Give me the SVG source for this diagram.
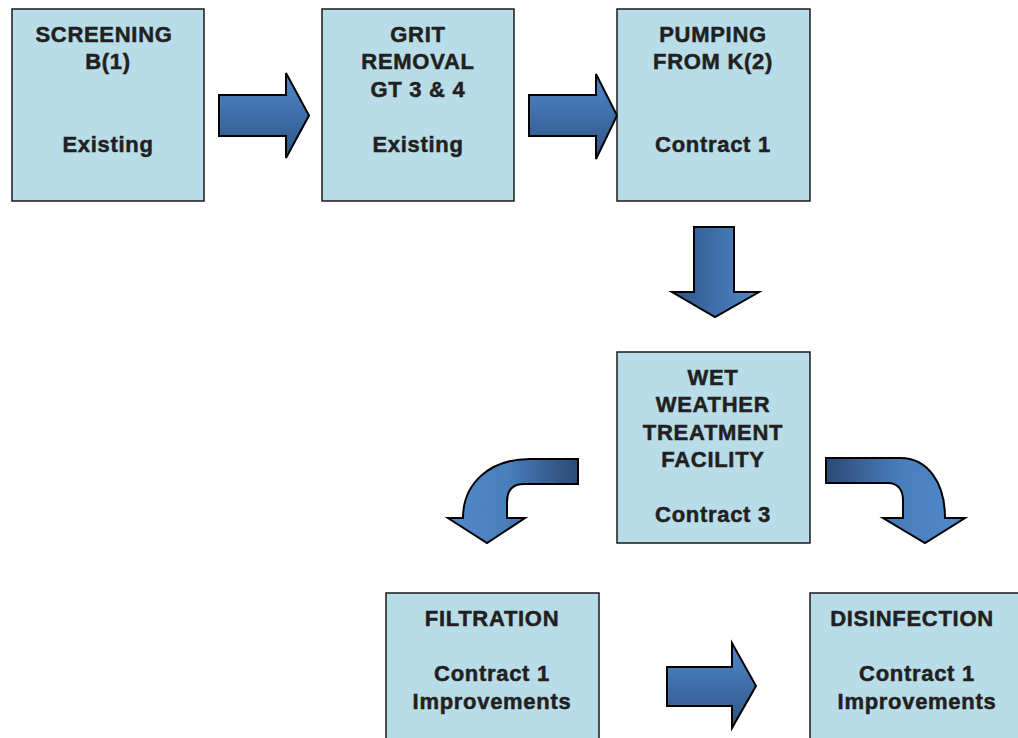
<svg xmlns="http://www.w3.org/2000/svg" width="1018" height="738" viewBox="0 0 1018 738">
<defs>
<linearGradient id="gV" x1="0" y1="0" x2="0" y2="1">
<stop offset="0" stop-color="#5189cb"/><stop offset="1" stop-color="#2c5485"/>
</linearGradient>
<linearGradient id="gH" x1="0" y1="0" x2="1" y2="0">
<stop offset="0" stop-color="#2c5485"/><stop offset="1" stop-color="#5189cb"/>
</linearGradient>
<linearGradient id="gL" x1="0" y1="0" x2="1" y2="0">
<stop offset="0" stop-color="#5189cb"/><stop offset="0.45" stop-color="#4a7fbd"/><stop offset="1" stop-color="#2a4a74"/>
</linearGradient>
<linearGradient id="gR" x1="0" y1="0" x2="1" y2="0">
<stop offset="0" stop-color="#2a4a74"/><stop offset="0.55" stop-color="#4a7fbd"/><stop offset="1" stop-color="#5189cb"/>
</linearGradient>
</defs>
<style>
.box{fill:#b8dde8;stroke:#1a1a1a;stroke-width:1.5}
.t{font-family:"Liberation Sans",Arial,sans-serif;font-weight:bold;font-size:22px;fill:#231f20;stroke:#231f20;stroke-width:0.5;text-anchor:middle;letter-spacing:0.7px}
.ar{stroke:#000;stroke-width:2;stroke-linejoin:miter}
</style>
<rect width="1018" height="738" fill="#fff"/>
<g id="n1">
<rect class="box" x="12" y="9" width="192" height="192"/>
<text class="t" x="104" y="41.7">SCREENING</text>
<text class="t" x="108" y="69.3">B(1)</text>
<text class="t" x="108" y="151.8">Existing</text>
</g>
<g id="n2">
<rect class="box" x="322" y="9" width="192" height="192"/>
<text class="t" x="418" y="41.7">GRIT</text>
<text class="t" x="418" y="69.3">REMOVAL</text>
<text class="t" x="418" y="96.8">GT 3 &amp; 4</text>
<text class="t" x="418" y="151.8">Existing</text>
</g>
<g id="n3">
<rect class="box" x="617" y="9" width="193" height="192"/>
<text class="t" x="713" y="41.7">PUMPING</text>
<text class="t" x="713" y="69.3">FROM K(2)</text>
<text class="t" x="713" y="151.8">Contract 1</text>
</g>
<g id="n4">
<rect class="box" x="617" y="352" width="193" height="191"/>
<text class="t" x="713" y="384.5">WET</text>
<text class="t" x="713" y="412">WEATHER</text>
<text class="t" x="713" y="439.5">TREATMENT</text>
<text class="t" x="713" y="467">FACILITY</text>
<text class="t" x="713" y="522">Contract 3</text>
</g>
<g id="n5">
<rect class="box" x="386" y="593" width="213" height="150"/>
<text class="t" x="492" y="626">FILTRATION</text>
<text class="t" x="492" y="681">Contract 1</text>
<text class="t" x="492" y="708.5">Improvements</text>
</g>
<g id="n6">
<rect class="box" x="810" y="593" width="214" height="150"/>
<text class="t" x="912" y="626">DISINFECTION</text>
<text class="t" x="917" y="681">Contract 1</text>
<text class="t" x="917" y="708.5">Improvements</text>
</g>
<g id="connectors">
<path class="ar" fill="url(#gV)" d="M219,95 L286,95 L286,73 L309,115.5 L286,158 L286,136 L219,136 Z"/>
<path class="ar" fill="url(#gV)" d="M529,95 L596,95 L596,74 L617,115.5 L596,159 L596,136 L529,136 Z"/>
<path class="ar" fill="url(#gH)" d="M694,227 L734,227 L734,292 L759,292 L715,317 L672,292 L694,292 Z"/>
<path class="ar" fill="url(#gL)" d="M578,459 L530,459 C490,459 463,483 463,518 L448,518 L487,543 L525,518 L507,518 L507,502 C507,490 513,484 524,484 L578,484 Z"/>
<path class="ar" fill="url(#gR)" d="M826,458 L900,458 C928,458 945,483 945,518 L965,518 L925,543 L883,518 L903,518 L903,500 C903,489 897,483 888,483 L826,483 Z"/>
<path class="ar" fill="url(#gV)" d="M667,667 L732,667 L732,643 L756,686 L732,728 L732,706 L667,706 Z"/>
</g>
</svg>
